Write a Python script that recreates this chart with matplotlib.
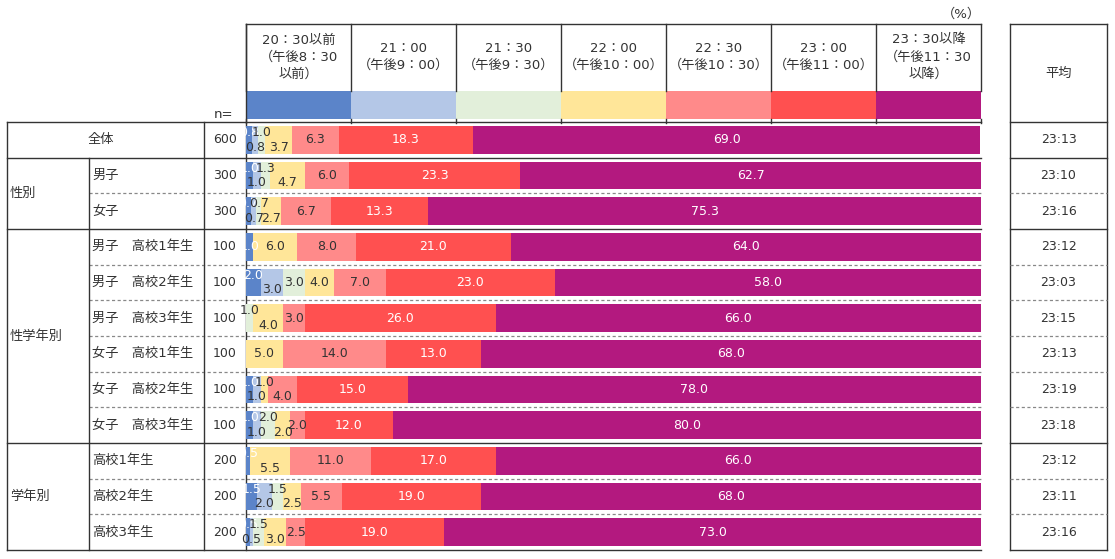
import numpy as np
import matplotlib.pyplot as plt
from matplotlib.patches import Rectangle

plt.rcParams['font.family'] = ['DejaVu Sans', 'Noto Sans CJK JP']

# データ
categories = ['20：30以前\n（午後8：30\n以前）', '21：00\n（午後9：00）', '21：30\n（午後9：30）',
              '22：00\n（午後10：00）', '22：30\n（午後10：30）', '23：00\n（午後11：00）',
              '23：30以降\n（午後11：30\n以降）']
colors = ['#5b84c9', '#b4c7e7', '#e2efda', '#ffe699', '#ff8a8a', '#ff5050', '#b3197f']
light_text = [True, False, False, False, False, True, True]

row_labels = ['全体', '男子', '女子',
              '男子　高校1年生', '男子　高校2年生', '男子　高校3年生',
              '女子　高校1年生', '女子　高校2年生', '女子　高校3年生',
              '高校1年生', '高校2年生', '高校3年生']
group_labels = ['性別', '性学年別', '学年別']
group_sizes = [2, 6, 3]
n_values = [600, 300, 300, 100, 100, 100, 100, 100, 100, 200, 200, 200]
averages = ['23:13', '23:10', '23:16', '23:12', '23:03', '23:15',
            '23:13', '23:19', '23:18', '23:12', '23:11', '23:16']

values = np.array([
    [0.8, 0.8, 1.0, 3.7, 6.3, 18.3, 69.0],
    [1.0, 1.0, 1.3, 4.7, 6.0, 23.3, 62.7],
    [0.7, 0.7, 0.7, 2.7, 6.7, 13.3, 75.3],
    [1.0, 0.0, 0.0, 6.0, 8.0, 21.0, 64.0],
    [2.0, 3.0, 3.0, 4.0, 7.0, 23.0, 58.0],
    [0.0, 0.0, 1.0, 4.0, 3.0, 26.0, 66.0],
    [0.0, 0.0, 0.0, 5.0, 14.0, 13.0, 68.0],
    [1.0, 1.0, 0.0, 1.0, 4.0, 15.0, 78.0],
    [1.0, 1.0, 2.0, 2.0, 2.0, 12.0, 80.0],
    [0.5, 0.0, 0.0, 5.5, 11.0, 17.0, 66.0],
    [1.5, 2.0, 1.5, 2.5, 5.5, 19.0, 68.0],
    [0.5, 0.5, 1.5, 3.0, 2.5, 19.0, 73.0],
])

# レイアウト (px)
W, H = 1115, 559
X_L, X_G, X_N, X_B0, X_B1 = 7, 89, 204, 246, 981
X_R0, X_R1 = 1010, 1107
Y_HEAD, Y_SW0, Y_SW1, Y_TOP, Y_BOT = 24, 91, 119, 122, 550
TXT = '#333333'
LINE = '#333333'
FS = 9.5
FS_NUM = 9

fig = plt.figure(figsize=(W / 100, H / 100), dpi=100)
ov = fig.add_axes([0, 0, 1, 1])
ov.set_xlim(0, W)
ov.set_ylim(H, 0)
ov.axis('off')

nrows = len(row_labels)
row_h = (Y_BOT - Y_TOP) / nrows
col_w = (X_B1 - X_B0) / len(categories)

# ヘッダー
for i, (cat, col) in enumerate(zip(categories, colors)):
    x0 = X_B0 + i * col_w
    ov.text(x0 + col_w / 2, 57, cat, ha='center', va='center', fontsize=FS,
            color=TXT, linespacing=1.4)
    ov.add_patch(Rectangle((x0, Y_SW0), col_w, Y_SW1 - Y_SW0, color=col, lw=0))
for i in range(len(categories) + 1):
    x = X_B0 + i * col_w
    ov.plot([x, x], [Y_HEAD, Y_SW0], color=LINE, lw=1)
    ov.plot([x, x], [Y_SW1, Y_TOP + 1], color=LINE, lw=1)
ov.plot([X_B0, X_B1], [Y_HEAD, Y_HEAD], color=LINE, lw=1)
ov.text(X_B1, 14, '（%）', ha='right', va='center', fontsize=FS, color=TXT)
ov.text(X_B0 - 13, 115, 'n=', ha='right', va='center', fontsize=FS, color=TXT)

# 平均ボックス
ov.plot([X_R0, X_R1], [Y_HEAD, Y_HEAD], color=LINE, lw=1)
ov.plot([X_R0, X_R0], [Y_HEAD, Y_BOT], color=LINE, lw=1)
ov.plot([X_R1, X_R1], [Y_HEAD, Y_BOT], color=LINE, lw=1)
ov.text((X_R0 + X_R1) / 2, 73, '平均', ha='center', va='center', fontsize=FS, color=TXT)

# 罫線
group_ends = np.cumsum([1] + group_sizes)
for r in range(nrows + 1):
    y = Y_TOP + r * row_h
    if r == 0 or r in group_ends:
        ov.plot([X_L, X_B1], [y, y], color=LINE, lw=1)
        ov.plot([X_R0, X_R1], [y, y], color=LINE, lw=1)
    else:
        ov.plot([X_G, X_B1], [y, y], color='#888888', lw=0.9, ls=(0, (2.5, 2)))
        ov.plot([X_R0, X_R1], [y, y], color='#888888', lw=0.9, ls=(0, (2.5, 2)))
ov.plot([X_L, X_L], [Y_TOP, Y_BOT], color=LINE, lw=1)
ov.plot([X_G, X_G], [Y_TOP + row_h, Y_BOT], color=LINE, lw=1)
ov.plot([X_N, X_N], [Y_TOP, Y_BOT], color=LINE, lw=1)
ov.plot([X_B0, X_B0], [Y_HEAD, Y_BOT], color=LINE, lw=1)

# 左の表
for r, (lab, n, avg) in enumerate(zip(row_labels, n_values, averages)):
    yc = Y_TOP + (r + 0.5) * row_h
    if r == 0:
        ov.text((X_L + X_N) / 2 - 5, yc, lab, ha='center', va='center', fontsize=FS, color=TXT)
    else:
        ov.text(X_G + 3, yc, lab, ha='left', va='center', fontsize=FS, color=TXT)
    ov.text(X_B0 - 9, yc, str(n), ha='right', va='center', fontsize=FS_NUM, color=TXT)
    ov.text((X_R0 + X_R1) / 2, yc, avg, ha='center', va='center', fontsize=FS_NUM, color=TXT)
for g, lab in enumerate(group_labels):
    yc = Y_TOP + (group_ends[g] + group_ends[g + 1]) / 2 * row_h
    ov.text(X_L + 3, yc, lab, ha='left', va='center', fontsize=FS, color=TXT)


def label_lanes(row):
    # 細いセグメントのラベルを上下にずらす
    centers = np.cumsum(row) - row / 2
    idx = [i for i, v in enumerate(row) if v > 0]
    lanes = {}
    prev, prev_c = None, None
    for k, i in enumerate(idx):
        c = centers[i]
        nxt = centers[idx[k + 1]] - c if k + 1 < len(idx) else 99
        if prev == 'T':
            lane = 'B' if c - prev_c < 3.25 else 'C'
        elif prev == 'B':
            lane = 'T' if c - prev_c < 1.9 else 'C'
        else:
            lane = 'T' if nxt < 3.25 else 'C'
        lanes[i] = lane
        prev, prev_c = lane, c
    return lanes


# 帯グラフ
ax = fig.add_axes([X_B0 / W, 1 - Y_BOT / H, (X_B1 - X_B0) / W, (Y_BOT - Y_TOP) / H])
ax.set_xlim(0, 100)
ax.set_ylim(nrows, 0)
ax.axis('off')
ypos = np.arange(nrows) + 0.5
left = np.zeros(nrows)
for j, col in enumerate(colors):
    ax.barh(ypos, values[:, j], left=left, height=0.78, color=col, lw=0)
    left += values[:, j]

shift = {'T': -0.21, 'B': 0.21, 'C': 0.0}
for r in range(nrows):
    row = values[r]
    lanes = label_lanes(row)
    starts = np.cumsum(row) - row
    for j, lane in lanes.items():
        ax.text(starts[j] + row[j] / 2, ypos[r] + shift[lane], f'{row[j]:.1f}',
                ha='center', va='center', fontsize=FS_NUM,
                color='white' if light_text[j] else TXT)

fig.savefig('out.png', dpi=100)
